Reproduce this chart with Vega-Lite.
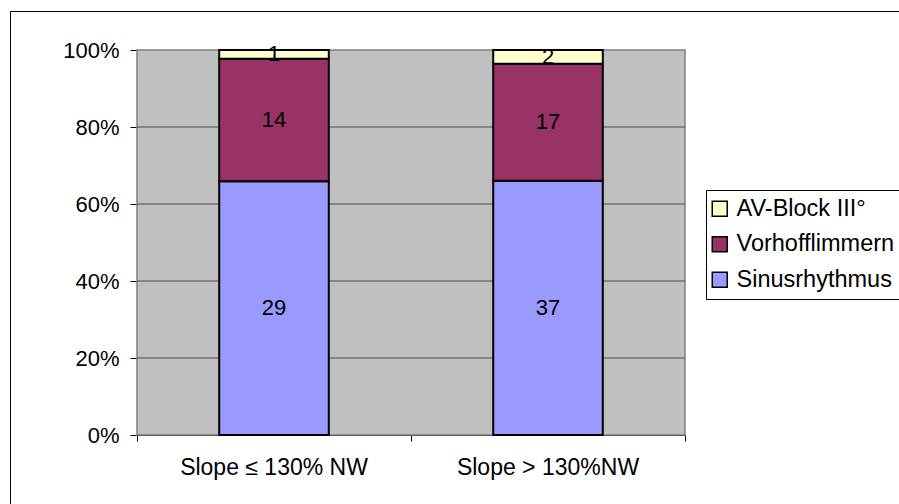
{
  "$schema": "https://vega.github.io/schema/vega-lite/v6.json",
  "width": 890,
  "height": 494,
  "autosize": {"type": "none"},
  "padding": {"left": 10, "top": 11, "right": -1, "bottom": -1},
  "background": "white",
  "config": {
    "font": "Liberation Sans",
    "view": {"stroke": "black", "strokeWidth": 1}
  },
  "datasets": {
    "counts": [
      {"group": "Slope ≤ 130% NW", "rhythm": "Sinusrhythmus", "count": 29},
      {"group": "Slope ≤ 130% NW", "rhythm": "Vorhofflimmern", "count": 14},
      {"group": "Slope ≤ 130% NW", "rhythm": "AV-Block III°", "count": 1},
      {"group": "Slope > 130%NW", "rhythm": "Sinusrhythmus", "count": 37},
      {"group": "Slope > 130%NW", "rhythm": "Vorhofflimmern", "count": 17},
      {"group": "Slope > 130%NW", "rhythm": "AV-Block III°", "count": 2}
    ]
  },
  "layer": [
    {
      "layer": [
        {
          "data": {"values": [{}]},
          "mark": {"type": "rect", "fill": "#c0c0c0", "stroke": "#808080", "strokeWidth": 1.5},
          "encoding": {
            "x": {
              "datum": 0,
              "type": "quantitative",
              "scale": {"domain": [0, 1], "range": [127, 675]},
              "axis": {
                "orient": "bottom",
                "offset": -70,
                "values": [0, 0.5, 1],
                "labels": false,
                "domain": false,
                "grid": false,
                "title": null,
                "tickColor": "black",
                "tickSize": 6
              }
            },
            "x2": {"datum": 1},
            "y": {"datum": 0, "type": "quantitative"},
            "y2": {"datum": 1}
          }
        },
        {
          "data": {"values": [{"tick": 0.2}, {"tick": 0.4}, {"tick": 0.6}, {"tick": 0.8}]},
          "mark": {"type": "rule", "stroke": "#4d4d4d", "strokeWidth": 1},
          "encoding": {
            "x": {"datum": 0, "type": "quantitative"},
            "x2": {"datum": 1},
            "y": {"field": "tick", "type": "quantitative"}
          }
        }
      ]
    },
    {
      "data": {"name": "counts"},
      "transform": [
        {"calculate": "indexof(['Sinusrhythmus', 'Vorhofflimmern', 'AV-Block III°'], datum.rhythm)", "as": "k"},
        {"stack": "count", "groupby": ["group"], "sort": [{"field": "k", "order": "ascending"}], "offset": "normalize", "as": ["y0", "y1"]},
        {"calculate": "(datum.y0 + datum.y1) / 2", "as": "ym"}
      ],
      "layer": [
        {
          "mark": {"type": "bar", "stroke": "black", "strokeWidth": 2},
          "encoding": {
            "x": {
              "field": "group",
              "type": "nominal",
              "sort": ["Slope ≤ 130% NW", "Slope > 130%NW"],
              "scale": {"range": [127, 675], "paddingInner": 0.6, "paddingOuter": 0.3},
              "axis": {
                "orient": "bottom",
                "offset": -70,
                "title": null,
                "labelAngle": 0,
                "ticks": false,
                "domainColor": "black",
                "domainWidth": 1,
                "labelFontSize": 23,
                "labelColor": "black",
                "labelPadding": 21,
                "labelLimit": 400
              }
            },
            "y": {
              "field": "y0",
              "type": "quantitative",
              "scale": {"domain": [0, 1], "range": [424, 39], "nice": false},
              "axis": {
                "orient": "left",
                "offset": -127,
                "title": null,
                "values": [0, 0.2, 0.4, 0.6, 0.8, 1],
                "format": ".0%",
                "grid": false,
                "domainColor": "black",
                "domainWidth": 1,
                "tickColor": "black",
                "tickSize": 7,
                "labelFontSize": 22,
                "labelColor": "black",
                "labelPadding": 11
              }
            },
            "y2": {"field": "y1"},
            "color": {
              "field": "rhythm",
              "type": "nominal",
              "scale": {
                "domain": ["AV-Block III°", "Vorhofflimmern", "Sinusrhythmus"],
                "range": ["#ffffcc", "#993366", "#9999ff"]
              },
              "legend": {
                "orient": "none",
                "legendX": 696,
                "legendY": 179,
                "title": null,
                "strokeColor": "black",
                "fillColor": "white",
                "padding": 7,
                "symbolType": "square",
                "symbolSize": 225,
                "symbolOffset": -5,
                "symbolStrokeColor": "black",
                "symbolStrokeWidth": 1.5,
                "symbolOpacity": 1,
                "labelFontSize": 23.5,
                "labelColor": "black",
                "labelOffset": 5,
                "rowPadding": 10.5,
                "labelLimit": 400
              }
            }
          }
        },
        {
          "mark": {"type": "text", "fontSize": 22, "color": "black", "baseline": "middle", "align": "center"},
          "encoding": {
            "x": {"field": "group", "type": "nominal", "sort": ["Slope ≤ 130% NW", "Slope > 130%NW"]},
            "y": {"field": "ym", "type": "quantitative"},
            "text": {"field": "count", "type": "quantitative"}
          }
        }
      ]
    }
  ],
  "resolve": {"scale": {"x": "independent"}, "axis": {"x": "independent"}}
}
